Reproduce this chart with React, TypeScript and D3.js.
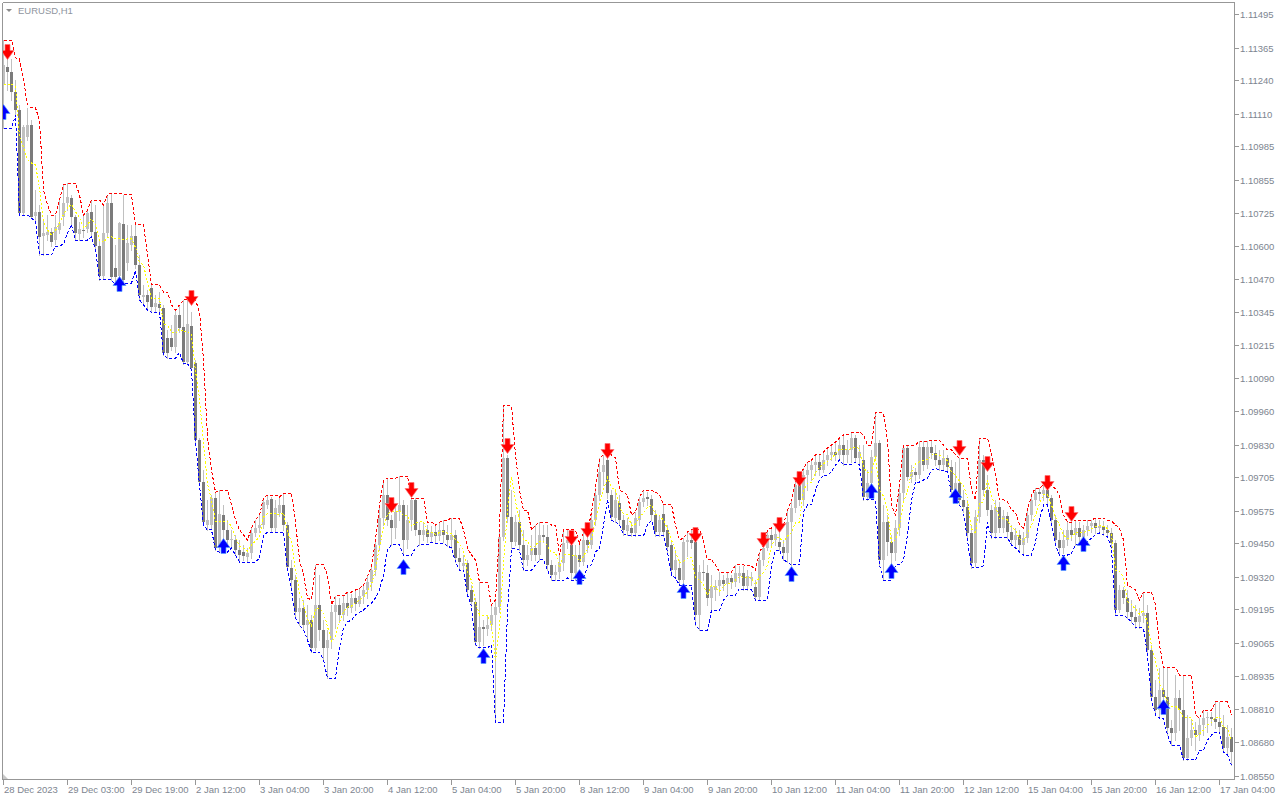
import React from 'react';
import * as d3 from 'd3';

const W = 1280;
const H = 800;

const open = [
1.11221,1.11290,1.11270,1.11193,1.11124,1.10725,1.11020,1.11066,1.10714,1.10729,
1.10637,1.10641,1.10652,1.10621,1.10660,1.10710,1.10764,1.10784,1.10710,1.10645,
1.10660,1.10664,1.10729,1.10652,1.10598,1.10482,1.10648,1.10764,1.10513,1.10482,
1.10684,1.10532,1.10602,1.10637,1.10525,1.10401,1.10409,1.10436,1.10363,1.10375,
1.10359,1.10243,1.10243,1.10208,1.10332,1.10285,1.10150,1.10289,1.10146,1.09848,
1.09686,1.09520,1.09520,1.09624,1.09431,1.09559,1.09501,1.09462,1.09462,1.09423,
1.09415,1.09396,1.09411,1.09489,1.09508,1.09520,1.09598,1.09620,1.09508,1.09566,
1.09598,1.09520,1.09354,1.09307,1.09183,1.09199,1.09134,1.09153,1.09045,1.09211,
1.09114,1.09045,1.09076,1.09183,1.09211,1.09172,1.09218,1.09199,1.09238,1.09215,
1.09246,1.09269,1.09299,1.09346,1.09443,1.09547,1.09636,1.09539,1.09508,1.09570,
1.09598,1.09462,1.09539,1.09617,1.09501,1.09482,1.09501,1.09474,1.09493,1.09478,
1.09501,1.09482,1.09462,1.09482,1.09392,1.09362,1.09373,1.09269,1.09222,1.09068,
1.09126,1.09118,1.09134,1.09172,1.09203,1.09474,1.09779,1.09551,1.09454,1.09531,
1.09443,1.09385,1.09404,1.09431,1.09404,1.09482,1.09474,1.09366,1.09327,1.09338,
1.09373,1.09450,1.09443,1.09335,1.09404,1.09377,1.09462,1.09443,1.09539,1.09636,
1.09724,1.09771,1.09636,1.09547,1.09605,1.09539,1.09497,1.09508,1.09489,1.09539,
1.09609,1.09628,1.09620,1.09559,1.09493,1.09563,1.09501,1.09443,1.09346,1.09354,
1.09307,1.09454,1.09462,1.09454,1.09172,1.09338,1.09335,1.09238,1.09269,1.09284,
1.09307,1.09292,1.09315,1.09299,1.09323,1.09335,1.09284,1.09311,1.09280,1.09242,
1.09385,1.09431,1.09482,1.09462,1.09454,1.09435,1.09411,1.09531,1.09586,1.09675,
1.09617,1.09713,1.09732,1.09752,1.09763,1.09732,1.09771,1.09791,1.09802,1.09791,
1.09829,1.09791,1.09810,1.09856,1.09779,1.09771,1.09628,1.09682,1.09783,1.09836,
1.09385,1.09531,1.09454,1.09411,1.09508,1.09643,1.09818,1.09705,1.09724,1.09713,
1.09821,1.09752,1.09821,1.09798,1.09771,1.09752,1.09779,1.09744,1.09655,1.09682,
1.09617,1.09590,1.09489,1.09373,1.09551,1.09771,1.09655,1.09578,1.09489,1.09590,
1.09508,1.09555,1.09493,1.09462,1.09482,1.09443,1.09470,1.09559,1.09617,1.09647,
1.09640,1.09655,1.09624,1.09539,1.09462,1.09431,1.09462,1.09501,1.09482,1.09508,
1.09474,1.09501,1.09516,1.09527,1.09508,1.09516,1.09501,1.09489,1.09450,1.09191,
1.09269,1.09238,1.09183,1.09164,1.09145,1.09168,1.09180,1.09037,1.08855,1.08805,
1.08882,1.08855,1.08735,1.08716,1.08851,1.08805,1.08619,1.08697,1.08728,1.08708,
1.08747,1.08774,1.08778,1.08770,1.08758,1.08739,1.08658,1.08701
];

const high = [
1.11394,1.11325,1.11321,1.11240,1.11144,1.11066,1.11132,1.11085,1.10815,1.10757,
1.10699,1.10718,1.10668,1.10718,1.10776,1.10834,1.10841,1.10796,1.10718,1.10691,
1.10718,1.10737,1.10776,1.10757,1.10621,1.10757,1.10796,1.10803,1.10602,1.10691,
1.10796,1.10680,1.10680,1.10680,1.10564,1.10448,1.10428,1.10448,1.10409,1.10420,
1.10371,1.10274,1.10293,1.10351,1.10371,1.10390,1.10390,1.10343,1.10158,1.09856,
1.09732,1.09617,1.09636,1.09647,1.09655,1.09598,1.09539,1.09501,1.09482,1.09462,
1.09443,1.09431,1.09508,1.09539,1.09559,1.09624,1.09636,1.09628,1.09617,1.09624,
1.09643,1.09531,1.09385,1.09327,1.09238,1.09230,1.09211,1.09172,1.09366,1.09327,
1.09153,1.09114,1.09211,1.09246,1.09238,1.09246,1.09261,1.09254,1.09269,1.09276,
1.09288,1.09323,1.09362,1.09462,1.09598,1.09694,1.09701,1.09559,1.09598,1.09709,
1.09617,1.09598,1.09624,1.09624,1.09531,1.09531,1.09520,1.09516,1.09520,1.09531,
1.09539,1.09520,1.09547,1.09501,1.09431,1.09404,1.09385,1.09288,1.09238,1.09299,
1.09153,1.09172,1.09211,1.09230,1.09501,1.09980,1.09791,1.09655,1.09559,1.09578,
1.09501,1.09443,1.09482,1.09520,1.09531,1.09520,1.09520,1.09385,1.09366,1.09404,
1.09501,1.09501,1.09450,1.09443,1.09443,1.09493,1.09478,1.09570,1.09663,1.09779,
1.09791,1.09779,1.09655,1.09647,1.09636,1.09559,1.09547,1.09531,1.09570,1.09628,
1.09655,1.09647,1.09636,1.09578,1.09559,1.09598,1.09520,1.09462,1.09423,1.09385,
1.09470,1.09493,1.09501,1.09462,1.09366,1.09385,1.09366,1.09327,1.09307,1.09338,
1.09327,1.09338,1.09327,1.09366,1.09362,1.09362,1.09346,1.09338,1.09307,1.09415,
1.09443,1.09501,1.09508,1.09520,1.09493,1.09462,1.09578,1.09617,1.09694,1.09679,
1.09740,1.09763,1.09771,1.09791,1.09791,1.09802,1.09818,1.09829,1.09840,1.09856,
1.09868,1.09848,1.09879,1.09868,1.09829,1.09829,1.09732,1.09810,1.09953,1.09848,
1.09598,1.09559,1.09482,1.09539,1.09675,1.09829,1.09829,1.09752,1.09740,1.09844,
1.09844,1.09844,1.09848,1.09829,1.09810,1.09810,1.09791,1.09771,1.09763,1.09779,
1.09655,1.09617,1.09520,1.09578,1.09856,1.09791,1.09713,1.09598,1.09617,1.09609,
1.09578,1.09570,1.09520,1.09508,1.09501,1.09493,1.09578,1.09636,1.09663,1.09663,
1.09675,1.09659,1.09636,1.09559,1.09493,1.09501,1.09531,1.09531,1.09539,1.09531,
1.09520,1.09539,1.09539,1.09547,1.09539,1.09535,1.09520,1.09508,1.09462,1.09288,
1.09280,1.09269,1.09230,1.09211,1.09199,1.09261,1.09211,1.09057,1.08921,1.08967,
1.08971,1.08971,1.08766,1.08940,1.08882,1.08940,1.08786,1.08766,1.08758,1.08774,
1.08805,1.08797,1.08797,1.08836,1.08836,1.08786,1.08747,1.08735
];

const low = [
1.11054,1.11201,1.11163,1.11105,1.10718,1.10718,1.11008,1.10706,1.10691,1.10564,
1.10564,1.10621,1.10598,1.10606,1.10648,1.10680,1.10737,1.10680,1.10621,1.10621,
1.10633,1.10652,1.10637,1.10583,1.10467,1.10474,1.10637,1.10467,1.10448,1.10470,
1.10455,1.10505,1.10583,1.10513,1.10390,1.10371,1.10351,1.10343,1.10343,1.10343,
1.10177,1.10165,1.10196,1.10188,1.10266,1.10143,1.10143,1.10119,1.09840,1.09675,
1.09520,1.09501,1.09508,1.09423,1.09415,1.09462,1.09443,1.09431,1.09404,1.09377,
1.09385,1.09377,1.09392,1.09478,1.09493,1.09508,1.09586,1.09493,1.09493,1.09555,
1.09501,1.09346,1.09269,1.09160,1.09134,1.09114,1.09076,1.09029,1.09037,1.09076,
1.08998,1.08928,1.09045,1.09122,1.09145,1.09153,1.09172,1.09183,1.09191,1.09207,
1.09218,1.09238,1.09269,1.09327,1.09423,1.09520,1.09520,1.09443,1.09470,1.09539,
1.09404,1.09431,1.09501,1.09482,1.09443,1.09462,1.09454,1.09458,1.09450,1.09462,
1.09454,1.09439,1.09431,1.09377,1.09346,1.09346,1.09249,1.09207,1.09057,1.09045,
1.09057,1.09095,1.09114,1.08758,1.09183,1.09462,1.09531,1.09431,1.09443,1.09423,
1.09346,1.09366,1.09385,1.09385,1.09385,1.09454,1.09346,1.09307,1.09307,1.09315,
1.09346,1.09431,1.09307,1.09307,1.09362,1.09366,1.09415,1.09431,1.09520,1.09617,
1.09675,1.09624,1.09539,1.09531,1.09520,1.09482,1.09482,1.09478,1.09478,1.09520,
1.09594,1.09598,1.09539,1.09478,1.09478,1.09478,1.09415,1.09327,1.09315,1.09288,
1.09288,1.09400,1.09431,1.09134,1.09114,1.09307,1.09211,1.09191,1.09230,1.09249,
1.09269,1.09249,1.09276,1.09284,1.09299,1.09269,1.09269,1.09288,1.09230,1.09230,
1.09366,1.09423,1.09443,1.09443,1.09423,1.09385,1.09377,1.09366,1.09570,1.09598,
1.09598,1.09655,1.09694,1.09713,1.09713,1.09725,1.09752,1.09771,1.09771,1.09779,
1.09752,1.09763,1.09763,1.09763,1.09752,1.09617,1.09617,1.09667,1.09771,1.09366,
1.09307,1.09404,1.09366,1.09385,1.09482,1.09617,1.09694,1.09686,1.09694,1.09701,
1.09732,1.09740,1.09779,1.09752,1.09732,1.09732,1.09725,1.09636,1.09647,1.09598,
1.09570,1.09462,1.09354,1.09362,1.09531,1.09636,1.09559,1.09470,1.09470,1.09493,
1.09493,1.09470,1.09443,1.09431,1.09415,1.09404,1.09454,1.09539,1.09598,1.09617,
1.09617,1.09598,1.09520,1.09443,1.09404,1.09411,1.09443,1.09462,1.09443,1.09454,
1.09470,1.09482,1.09493,1.09489,1.09493,1.09482,1.09474,1.09431,1.09172,1.09183,
1.09218,1.09160,1.09145,1.09122,1.09122,1.09145,1.09018,1.08844,1.08786,1.08774,
1.08851,1.08708,1.08669,1.08689,1.08728,1.08612,1.08612,1.08669,1.08650,1.08689,
1.08708,1.08720,1.08747,1.08735,1.08720,1.08643,1.08631,1.08592
];

const close = [
1.11298,1.11270,1.11193,1.11124,1.10725,1.11058,1.11066,1.10710,1.10729,1.10633,
1.10648,1.10652,1.10613,1.10672,1.10687,1.10764,1.10788,1.10710,1.10648,1.10664,
1.10656,1.10725,1.10652,1.10598,1.10482,1.10648,1.10764,1.10478,1.10478,1.10687,
1.10467,1.10609,1.10637,1.10525,1.10409,1.10409,1.10382,1.10363,1.10378,1.10359,
1.10184,1.10184,1.10208,1.10332,1.10281,1.10150,1.10297,1.10127,1.09848,1.09686,
1.09531,1.09539,1.09624,1.09431,1.09563,1.09501,1.09462,1.09466,1.09423,1.09404,
1.09400,1.09411,1.09489,1.09508,1.09520,1.09609,1.09617,1.09508,1.09586,1.09598,
1.09520,1.09358,1.09307,1.09183,1.09199,1.09134,1.09153,1.09045,1.09211,1.09114,
1.09045,1.09076,1.09183,1.09211,1.09172,1.09218,1.09199,1.09238,1.09215,1.09246,
1.09269,1.09299,1.09346,1.09443,1.09547,1.09636,1.09539,1.09508,1.09570,1.09598,
1.09462,1.09539,1.09617,1.09501,1.09482,1.09501,1.09474,1.09493,1.09478,1.09501,
1.09482,1.09462,1.09482,1.09392,1.09377,1.09373,1.09269,1.09222,1.09068,1.09126,
1.09118,1.09134,1.09172,1.09203,1.09474,1.09779,1.09551,1.09454,1.09531,1.09443,
1.09385,1.09404,1.09431,1.09404,1.09482,1.09474,1.09366,1.09327,1.09338,1.09373,
1.09450,1.09462,1.09335,1.09404,1.09377,1.09462,1.09443,1.09539,1.09636,1.09724,
1.09752,1.09643,1.09551,1.09617,1.09539,1.09501,1.09520,1.09489,1.09547,1.09609,
1.09624,1.09620,1.09559,1.09493,1.09539,1.09493,1.09435,1.09346,1.09385,1.09307,
1.09454,1.09462,1.09450,1.09172,1.09338,1.09335,1.09238,1.09280,1.09284,1.09307,
1.09292,1.09315,1.09299,1.09335,1.09335,1.09284,1.09323,1.09319,1.09242,1.09385,
1.09431,1.09482,1.09462,1.09485,1.09435,1.09411,1.09531,1.09586,1.09675,1.09617,
1.09713,1.09732,1.09752,1.09763,1.09732,1.09771,1.09791,1.09802,1.09791,1.09829,
1.09791,1.09810,1.09856,1.09779,1.09802,1.09628,1.09682,1.09783,1.09836,1.09385,
1.09531,1.09454,1.09411,1.09508,1.09643,1.09818,1.09705,1.09724,1.09713,1.09821,
1.09752,1.09821,1.09798,1.09771,1.09752,1.09779,1.09744,1.09655,1.09682,1.09617,
1.09590,1.09489,1.09373,1.09551,1.09771,1.09655,1.09578,1.09489,1.09590,1.09508,
1.09555,1.09493,1.09462,1.09482,1.09443,1.09470,1.09559,1.09617,1.09647,1.09640,
1.09655,1.09624,1.09539,1.09462,1.09431,1.09462,1.09501,1.09482,1.09508,1.09474,
1.09501,1.09516,1.09527,1.09508,1.09516,1.09501,1.09489,1.09450,1.09191,1.09269,
1.09238,1.09183,1.09164,1.09145,1.09168,1.09180,1.09037,1.08855,1.08805,1.08882,
1.08855,1.08735,1.08716,1.08851,1.08805,1.08619,1.08697,1.08728,1.08708,1.08747,
1.08774,1.08778,1.08770,1.08758,1.08739,1.08658,1.08701,1.08643
];

const priceTicks = [
1.11495,1.11365,1.11240,1.11110,1.10985,1.10855,1.10725,1.10600,1.10470,1.10345,
1.10215,1.10090,1.09960,1.09830,1.09705,1.09575,1.09450,1.09320,1.09195,1.09065,
1.08935,1.08810,1.08680,1.08550
];

const timeLabels = [
'28 Dec 2023','29 Dec 03:00','29 Dec 19:00','2 Jan 12:00','3 Jan 04:00','3 Jan 20:00',
'4 Jan 12:00','5 Jan 04:00','5 Jan 20:00','8 Jan 12:00','9 Jan 04:00','9 Jan 20:00',
'10 Jan 12:00','11 Jan 04:00','11 Jan 20:00','12 Jan 12:00','15 Jan 04:00','15 Jan 20:00',
'16 Jan 12:00','17 Jan 04:00'
];
const timeLabelBars = [0,16,32,48,64,80,96,112,128,144,160,176,192,208,224,240,256,272,288,304];

const sellBars = [1,47,97,102,126,142,146,151,173,190,194,199,239,246,261,267];
const sellPrices = [1.11348,1.10397,1.09597,1.09655,1.09825,1.09470,1.09501,1.09806,1.09481,1.09462,1.09520,1.09698,1.09818,1.09756,1.09682,1.09562];
const buyBars = [0,29,55,100,120,144,170,197,217,222,238,265,270,290];
const buyPrices = [1.11116,1.10451,1.09439,1.09357,1.09014,1.09319,1.09265,1.09330,1.09651,1.09342,1.09632,1.09373,1.09446,1.08816];

const FONT = "'Liberation Sans', Arial, sans-serif";
const TEXT = '#7d8590';
const FRAME = '#979797';

export default function App() {
  const N = close.length;
  const x = d3.scaleLinear().domain([0, N - 1]).range([3, 3 + 4 * (N - 1)]);
  const y = d3.scaleLinear().domain([1.0855, 1.11495]).range([776, 14]);
  const idx = d3.range(N);
  const upper = idx.map(i => d3.max(high.slice(Math.max(0, i - 2), i + 1)) as number);
  const lower = idx.map(i => d3.min(low.slice(Math.max(0, i - 2), i + 1)) as number);
  const middle = idx.map(i => (upper[i] + lower[i]) / 2);
  const line = d3.line<number>().x((_, i) => x(i) + 0.5).y(v => y(v));

  const left = 2, top = 2, right = 1234, bottom = 779;

  const downArrow = (cx: number, cy: number) =>
    `M${cx - 2.5},${cy - 7.5} L${cx + 2.5},${cy - 7.5} L${cx + 2.5},${cy - 1.5} L${cx + 6.5},${cy - 1.5} L${cx},${cy + 7.5} L${cx - 6.5},${cy - 1.5} L${cx - 2.5},${cy - 1.5} Z`;
  const upArrow = (cx: number, cy: number) =>
    `M${cx - 2.5},${cy + 7.5} L${cx + 2.5},${cy + 7.5} L${cx + 2.5},${cy + 1.5} L${cx + 6.5},${cy + 1.5} L${cx},${cy - 7.5} L${cx - 6.5},${cy + 1.5} L${cx - 2.5},${cy + 1.5} Z`;

  return (
    <svg width={W} height={H} style={{ position: 'absolute', left: 0, top: 0, display: 'block', background: '#fff' }}>
      <rect x={0} y={0} width={W} height={H} fill="#fff" />
      <defs>
        <clipPath id="plot">
          <rect x={left + 1} y={top + 1} width={right - left - 1} height={bottom - top - 1} />
        </clipPath>
      </defs>

      <g clipPath="url(#plot)">
        <g shapeRendering="crispEdges">
          {idx.map(i => {
            const cx = Math.round(x(i));
            const yh = Math.round(y(high[i]));
            const yl = Math.round(y(low[i]));
            return <rect key={'w' + i} x={cx} y={yh} width={1} height={Math.max(1, yl - yh + 1)} fill="#c0c0c0" />;
          })}
          {idx.map(i => {
            const cx = Math.round(x(i));
            const bull = close[i] >= open[i];
            const yt = Math.round(y(Math.max(open[i], close[i])));
            const yb = Math.round(y(Math.min(open[i], close[i])));
            return (
              <rect key={'b' + i} x={cx - 1} y={yt} width={3} height={Math.max(1, yb - yt)}
                fill={bull ? '#c0c0c0' : '#7b7b7b'} />
            );
          })}
        </g>
        <g fill="none" strokeWidth={1} shapeRendering="crispEdges">
          <path d={line(upper) || ''} stroke="#ff0000" strokeDasharray="3 2" />
          <path d={line(lower) || ''} stroke="#0000ff" strokeDasharray="3 2" />
          <path d={line(middle) || ''} stroke="#ffff00" strokeDasharray="2 2" />
        </g>
        {sellBars.map((b, k) => (
          <path key={'s' + k} d={downArrow(Math.round(x(b)) + 0.5, Math.round(y(sellPrices[k])))}
            fill="#ff0000" stroke="#ff7070" strokeWidth={1} strokeOpacity={0.7} strokeLinejoin="round" />
        ))}
        {buyBars.map((b, k) => (
          <path key={'u' + k} d={upArrow(Math.round(x(b)) + 0.5, Math.round(y(buyPrices[k])))}
            fill="#0000ff" stroke="#5aa0ff" strokeWidth={1} strokeOpacity={0.7} strokeLinejoin="round" />
        ))}
      </g>

      <g stroke={FRAME} strokeWidth={1} shapeRendering="crispEdges" fill="none">
        <line x1={left + 0.5} y1={top + 0.5} x2={right + 0.5} y2={top + 0.5} />
        <line x1={left + 0.5} y1={top + 0.5} x2={left + 0.5} y2={bottom + 0.5} />
        <line x1={right + 0.5} y1={top + 0.5} x2={right + 0.5} y2={bottom + 0.5} />
        <line x1={left + 0.5} y1={bottom + 0.5} x2={right + 0.5} y2={bottom + 0.5} />
        {priceTicks.map((p, k) => {
          const yy = Math.round(y(p)) + 0.5;
          return <line key={'pt' + k} x1={right + 1} y1={yy} x2={right + 5} y2={yy} />;
        })}
        {timeLabelBars.map((b, k) => {
          const xx = Math.round(x(b)) + 0.5;
          return <line key={'tt' + k} x1={xx} y1={bottom + 1} x2={xx} y2={bottom + 6} />;
        })}
      </g>
      <polygon points={`${left + 1},${bottom - 5} ${left + 1},${bottom} ${left + 6},${bottom}`} fill="#c8c8c8" />

      <polygon points="6,9 12,9 9,12" fill="#8a8a8a" />
      <text x={18} y={14} fontFamily={FONT} fontSize={9.5} fill="#8f959e">EURUSD,H1</text>

      {priceTicks.map((p, k) => (
        <text key={'pl' + k} x={right + 6} y={Math.round(y(p)) + 3.5} fontFamily={FONT} fontSize={9.5} fill={TEXT}>
          {p.toFixed(5)}
        </text>
      ))}

      {timeLabels.map((t, k) => (
        <text key={'tl' + k} x={Math.round(x(timeLabelBars[k])) + 1} y={bottom + 14} fontFamily={FONT} fontSize={9.5} fill={TEXT}>
          {t}
        </text>
      ))}
    </svg>
  );
}
